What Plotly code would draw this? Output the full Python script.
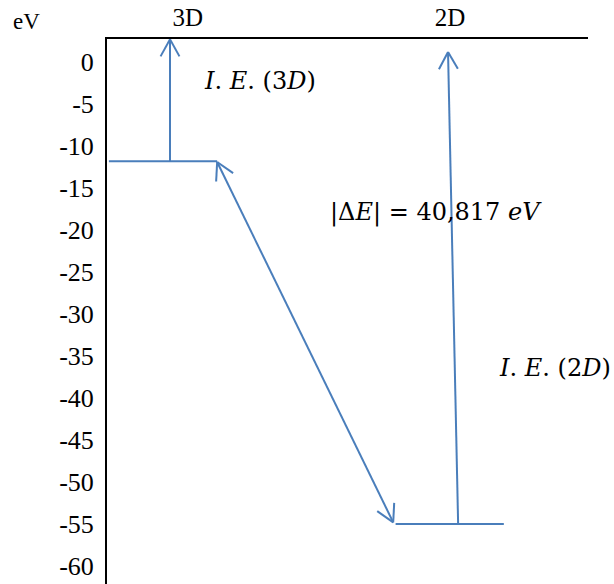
import math
import plotly.graph_objects as go

# ---- data ----
states = ["3D", "2D"]
state_label_x = [1.68, 7.13]
level_energy = [-11.8, -55.0]          # eV
level_x_start = [0.04, 6.0]
level_x_end = [2.29, 8.25]
ie_x_bottom = [1.31, 7.30]
ie_x_top = [1.31, 7.09]
ie_top_energy = [2.7, 1.2]
y_ticks = [0, -5, -10, -15, -20, -25, -30, -35, -40, -45, -50, -55, -60]
delta_e_text = "|Δ<i>E</i>| = 40,817 <i>eV</i>"

# ---- layout geometry ----
W, H = 614, 584
L, R, T, B = 107, 26, 39, 0
PW, PH = W - L - R, H - T - B
X0, X1 = 0.0, 10.0
Y0, Y1 = -62.14, 2.74
COLOR = "#4a7ebb"


def to_px(x, y):
    return (L + (x - X0) / (X1 - X0) * PW, T + (Y1 - y) / (Y1 - Y0) * PH)


def to_data(px, py):
    return (X0 + (px - L) / PW * (X1 - X0), Y1 - (py - T) / PH * (Y1 - Y0))


def head(tip, tail, length=19.5, ang=29):
    tx, ty = to_px(*tip)
    sx, sy = to_px(*tail)
    dx, dy = sx - tx, sy - ty
    n = math.hypot(dx, dy)
    dx, dy = dx / n, dy / n
    xs, ys = [], []
    for s in (1, -1):
        a = math.radians(ang * s)
        rx = dx * math.cos(a) - dy * math.sin(a)
        ry = dx * math.sin(a) + dy * math.cos(a)
        ax, ay = to_data(tx + rx * length, ty + ry * length)
        xs += [tip[0], ax, None]
        ys += [tip[1], ay, None]
    return xs, ys


fig = go.Figure()
xs, ys = [], []
# energy levels
for i in range(len(states)):
    xs += [level_x_start[i], level_x_end[i], None]
    ys += [level_energy[i], level_energy[i], None]
# ionization arrows
for i in range(len(states)):
    tail = (ie_x_bottom[i], level_energy[i])
    tip = (ie_x_top[i], ie_top_energy[i])
    xs += [tail[0], tip[0], None]
    ys += [tail[1], tip[1], None]
    hx, hy = head(tip, tail)
    xs += hx
    ys += hy
# transition arrow (double headed)
p1 = (level_x_end[0], level_energy[0] - 0.1)
p2 = (level_x_start[1] - 0.05, level_energy[1] + 0.2)
xs += [p1[0], p2[0], None]
ys += [p1[1], p2[1], None]
for tip, tail in ((p1, p2), (p2, p1)):
    hx, hy = head(tip, tail)
    xs += hx
    ys += hy

fig.add_trace(go.Scatter(x=xs, y=ys, mode="lines",
                         line=dict(color=COLOR, width=2),
                         hoverinfo="skip", showlegend=False, cliponaxis=False))

serif = "Liberation Serif"
math_font = dict(family="DejaVu Serif", size=24, color="black")

annotations = [
    dict(x=3.18, y=-2.3, text="<i>I</i>. <i>E</i>. (3<i>D</i>)", font=math_font),
    dict(x=6.84, y=-17.9, text=delta_e_text, font=math_font),
    dict(x=(613 - L) / PW, xref="paper", y=-36.4,
         text="<i>I</i>. <i>E</i>. (2<i>D</i>)", font=math_font, xanchor="right"),
    dict(x=(26 - L) / PW, xref="paper", y=(H - 21 - B) / PH, yref="paper",
         text="eV", font=dict(family=serif, size=23, color="black")),
]
for a in annotations:
    a.setdefault("xref", "x")
    a.setdefault("yref", "y")
    a.setdefault("xanchor", "center")
    a["yanchor"] = "middle"
    a["showarrow"] = False

fig.update_layout(
    width=W, height=H,
    margin=dict(l=L, r=R, t=T, b=B, pad=0),
    paper_bgcolor="white", plot_bgcolor="white",
    annotations=annotations,
    xaxis=dict(range=[X0, X1], side="top", showline=True, linecolor="black",
               linewidth=2, showgrid=False, zeroline=False, ticks="",
               tickvals=state_label_x, ticktext=states, ticklabelstandoff=1,
               tickfont=dict(family=serif, size=25, color="black")),
    yaxis=dict(range=[Y0, Y1], showline=True, linecolor="black", linewidth=2,
               showgrid=False, zeroline=False, ticks="", tickvals=y_ticks,
               ticktext=[str(v) for v in y_ticks], ticklabelstandoff=6,
               tickfont=dict(family=serif, size=26, color="black")),
)

fig.write_html("out.html")
